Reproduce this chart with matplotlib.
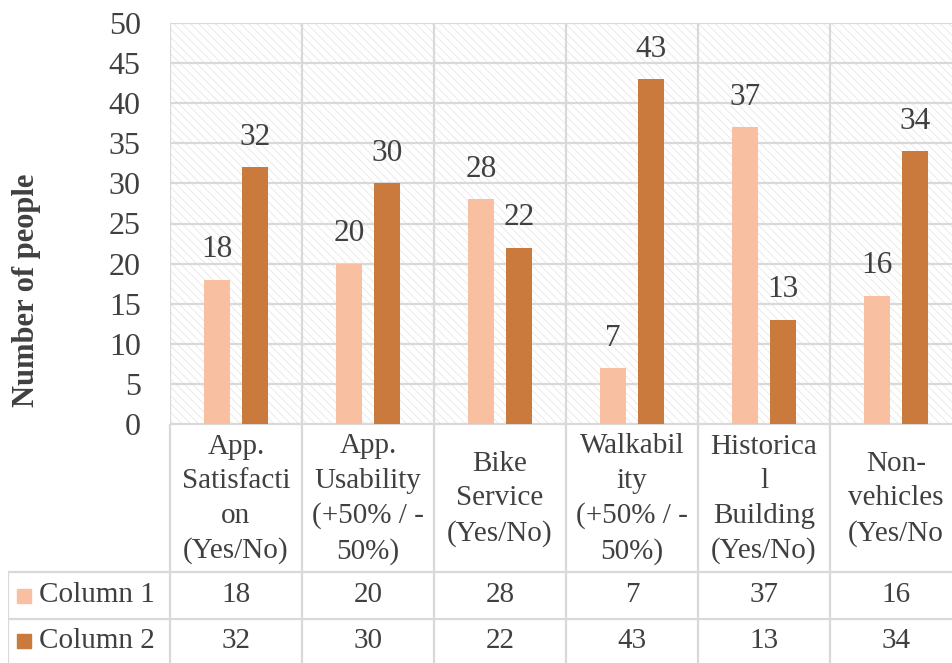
import numpy as np
import matplotlib.pyplot as plt
from matplotlib.patches import Rectangle

# datos
categories = ["App.\nSatisfacti\non\n(Yes/No)", "App.\nUsability\n(+50% / -\n50%)",
              "Bike\nService\n(Yes/No)", "Walkabil\nity\n(+50% / -\n50%)",
              "Historica\nl\nBuilding\n(Yes/No)", "Non-\nvehicles\n(Yes/No"]
series_names = ["Column 1", "Column 2"]
column1 = [18, 20, 28, 7, 37, 16]
column2 = [32, 30, 22, 43, 13, 34]
y_ticks = [0, 5, 10, 15, 20, 25, 30, 35, 40, 45, 50]

colors = ["#F8BFA0", "#C97A3C"]
grid_c = "#D9D9D9"
text_c = "#404040"

plt.rcParams['font.family'] = ['Liberation Serif', 'DejaVu Serif']
plt.rcParams['hatch.linewidth'] = 0.5

W, H = 953, 663
fig = plt.figure(figsize=(W / 100, H / 100), dpi=100)

# zona del grafico (pixeles de la referencia)
x0, x1, y_top, y_bot = 170, 962, 23, 424
ax = fig.add_axes([x0 / W, 1 - y_bot / H, (x1 - x0) / W, (y_bot - y_top) / H])

n = len(categories)
x = np.arange(n)
ax.set_xlim(-0.5, n - 0.5)
ax.set_ylim(0, 50)

# fondo rayado
ax.add_patch(Rectangle((0, 0), 1, 1, transform=ax.transAxes, facecolor="white",
                       edgecolor="#E2E2E2", hatch="\\\\\\\\", linewidth=0, zorder=0))

for yv in y_ticks:
    ax.axhline(yv, color=grid_c, lw=1.6, zorder=1)
for xv in np.arange(n + 1) - 0.5:
    ax.axvline(xv, color=grid_c, lw=1.6, zorder=1)

off = 0.145
bw = 0.2
for vals, col, dx in [(column1, colors[0], -off), (column2, colors[1], off)]:
    bars = ax.bar(x + dx, vals, width=bw, color=col, zorder=3)
    for b, v in zip(bars, vals):
        ax.annotate(str(v), (b.get_x() + b.get_width() / 2, v), xytext=(0, 11),
                    textcoords="offset points", ha="center", va="bottom",
                    fontsize=22.5, color=text_c)

for s in ax.spines.values():
    s.set_visible(False)
ax.set_xticks([])
ax.set_yticks(y_ticks)
ax.tick_params(axis="y", length=0, pad=21, labelsize=23, labelcolor=text_c)

fig.text(27 / W, 1 - 290 / H, "Number of people", rotation=90, ha="center",
         va="center", fontsize=22, fontweight="bold", color=text_c)

# tabla de datos
t_left = 8
hdr = (x0 - t_left) / 132.0
axt = fig.add_axes([t_left / W, 0, (x1 - t_left) / W, (H - y_bot) / H])
axt.set_xlim(-0.5 - hdr, n - 0.5)
axt.set_ylim(H - y_bot, 0)
axt.axis("off")

r0, r1, r2 = 148, 195, 239
axt.plot([-0.5, n - 0.5], [0, 0], color=grid_c, lw=1.6)
axt.plot([-0.5 - hdr, n - 0.5], [r0, r0], color=grid_c, lw=1.6)
axt.plot([-0.5 - hdr, n - 0.5], [r1, r1], color=grid_c, lw=1.6)
axt.plot([-0.5 - hdr, -0.5 - hdr], [r0, r2], color=grid_c, lw=1.6)
for xv in np.arange(n + 1) - 0.5:
    axt.plot([xv, xv], [0, r2], color=grid_c, lw=1.6)

for i, c in enumerate(categories):
    axt.text(i, r0 / 2 + 1, c, ha="center", va="center", fontsize=21, color=text_c,
             linespacing=1.42)

for row_y, name, vals, col in [((r0 + r1) / 2, series_names[0], column1, colors[0]),
                                ((r1 + r2) / 2, series_names[1], column2, colors[1])]:
    axt.plot(-0.5 - hdr + 16 / 132, row_y, marker="s", markersize=10, color=col, lw=0)
    axt.text(-0.5 - hdr + 31 / 132, row_y, name, ha="left", va="center",
             fontsize=21, color=text_c)
    for i, v in enumerate(vals):
        axt.text(i, row_y, str(v), ha="center", va="center", fontsize=21, color=text_c)

fig.savefig("out.png", dpi=100)
